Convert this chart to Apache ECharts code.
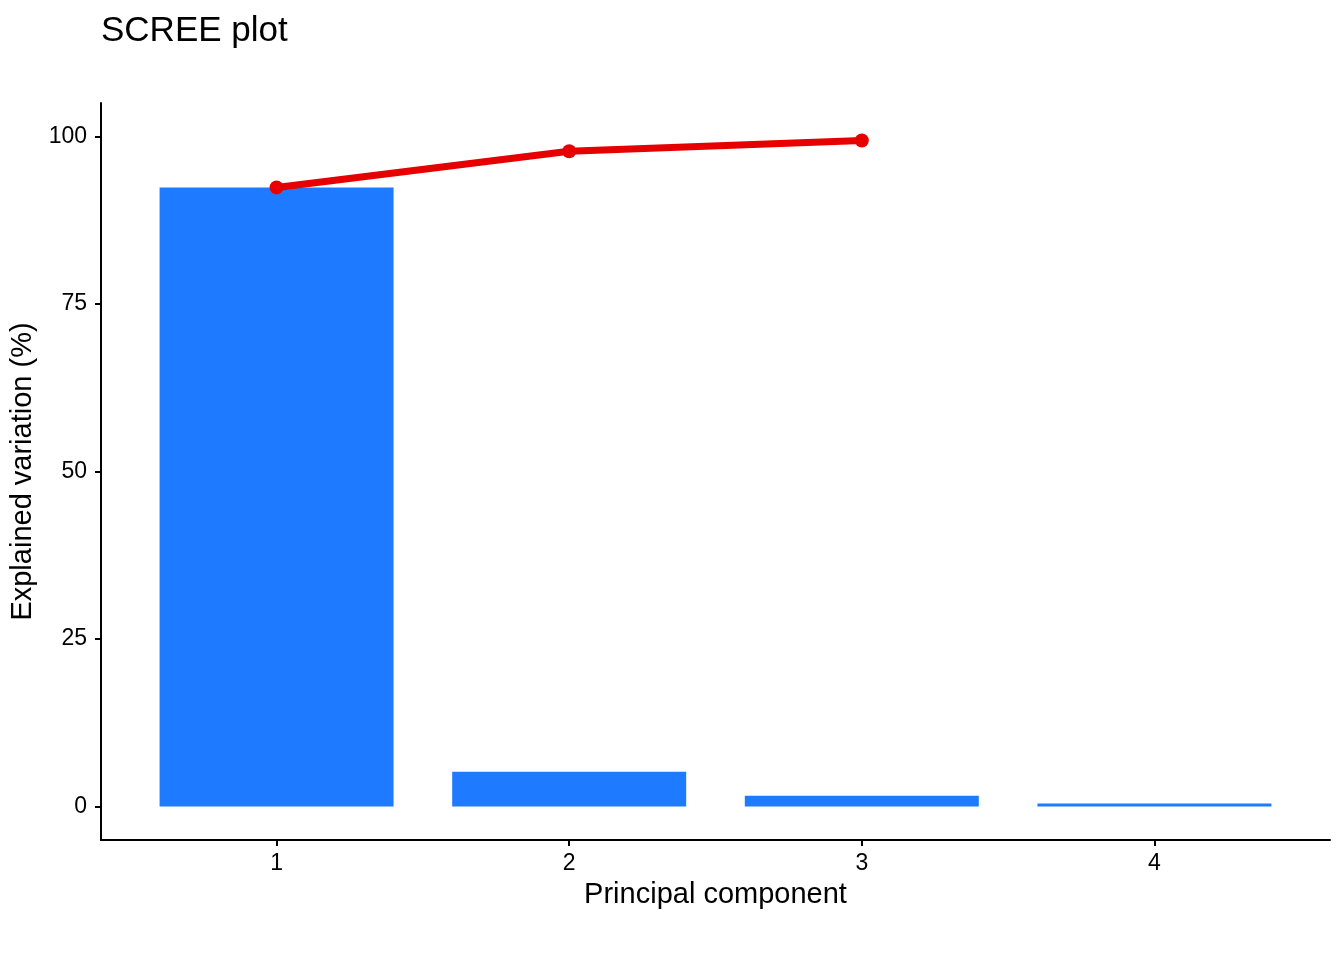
<!DOCTYPE html>
<html>
<head>
<meta charset="utf-8">
<script src="https://cdn.jsdelivr.net/npm/echarts@6/dist/echarts.min.js"></script>
<style>
  html, body { margin: 0; padding: 0; background: #fff; }
  #chart { width: 1344px; height: 960px; }
</style>
</head>
<body>
<div id="chart"></div>
<script>
// principal components and explained variation (%)
const components = [1, 2, 3, 4];
const explained = [92.4, 5.2, 1.6, 0.45];
// cumulative variation, drawn only for the first three components
const cumulativeComponents = [1, 2, 3];
const cumulative = [92.4, 97.8, 99.4];
const yTicks = [0, 25, 50, 75, 100];

const font = '"Liberation Sans", Arial, Helvetica, sans-serif';
var myChart = echarts.init(document.getElementById('chart'));

var option = {
    animation: false,
    backgroundColor: '#fff',
    title: {
        text: 'SCREE plot',
        left: 101,
        top: 14,
        padding: 0,
        textStyle: { fontFamily: font, fontSize: 35, fontWeight: 'normal', color: '#000' }
    },
    grid: { left: 101, right: 14, top: 103, bottom: 120, outerBoundsMode: 'none', containLabel: false },
    xAxis: {
        type: 'value',
        min: 0.4,
        max: 4.6,
        name: 'Principal component',
        nameLocation: 'middle',
        nameGap: 40,
        nameTextStyle: { fontFamily: font, fontSize: 29, color: '#000' },
        axisLine: { show: true, onZero: false, lineStyle: { color: '#000', width: 2 } },
        axisTick: { show: true, length: 6, customValues: components, lineStyle: { color: '#000', width: 2 } },
        axisLabel: { customValues: components, margin: 12, fontFamily: font, fontSize: 23, color: '#000' },
        splitLine: { show: false }
    },
    yAxis: {
        type: 'value',
        min: -5,
        max: 105,
        name: 'Explained variation (%)',
        nameLocation: 'middle',
        nameGap: 58,
        nameTextStyle: { fontFamily: font, fontSize: 29, color: '#000' },
        axisLine: { show: true, onZero: false, lineStyle: { color: '#000', width: 2 } },
        axisTick: { show: true, length: 6, customValues: yTicks, lineStyle: { color: '#000', width: 2 } },
        axisLabel: { customValues: yTicks, margin: 14, fontFamily: font, fontSize: 23, color: '#000' },
        splitLine: { show: false }
    },
    series: [
        {
            type: 'bar',
            barWidth: 234,
            itemStyle: { color: '#1e7bff' },
            data: components.map((c, i) => [c, explained[i]])
        },
        {
            type: 'line',
            symbol: 'circle',
            symbolSize: 14,
            lineStyle: { color: '#e60000', width: 7 },
            itemStyle: { color: '#e60000' },
            data: cumulativeComponents.map((c, i) => [c, cumulative[i]])
        }
    ]
};

option && myChart.setOption(option);
</script>
</body>
</html>
